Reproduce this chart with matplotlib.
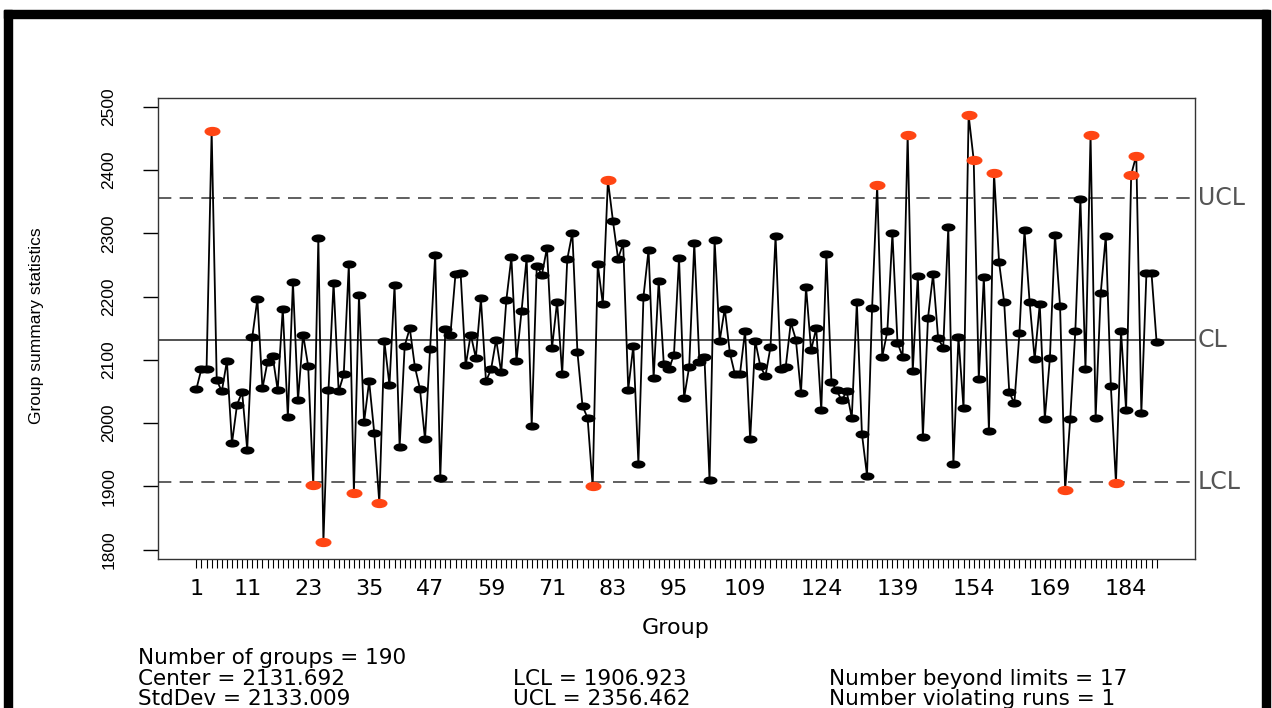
import numpy as np
import matplotlib
matplotlib.use('Agg')
from matplotlib import pyplot as plt
from matplotlib.path import Path
from matplotlib.transforms import Affine2D
from matplotlib.patches import Rectangle

# group summary statistics, one value per group
groups = np.arange(1, 191)
stats = [
    2054, 2086, 2086, 2462, 2068, 2050, 2098, 1968, 2029, 2049,
    1958, 2136, 2196, 2055, 2097, 2106, 2052, 2181, 2009, 2223,
    2036, 2140, 2090, 1902, 2293, 1812, 2052, 2222, 2050, 2077,
    2251, 1890, 2202, 2001, 2066, 1985, 1874, 2129, 2060, 2218,
    1962, 2122, 2150, 2089, 2054, 1974, 2117, 2266, 1913, 2148,
    2140, 2236, 2238, 2091, 2140, 2103, 2197, 2066, 2085, 2132,
    2080, 2194, 2262, 2098, 2177, 2261, 1996, 2249, 2234, 2277,
    2119, 2192, 2078, 2259, 2301, 2112, 2027, 2008, 1900, 2251,
    2188, 2384, 2319, 2260, 2284, 2053, 2122, 1936, 2200, 2274,
    2071, 2225, 2093, 2085, 2108, 2261, 2040, 2089, 2285, 2097,
    2104, 1910, 2290, 2130, 2181, 2111, 2077, 2078, 2146, 1974,
    2130, 2090, 2074, 2120, 2296, 2086, 2089, 2159, 2132, 2047,
    2215, 2115, 2150, 2020, 2267, 2065, 2052, 2036, 2050, 2008,
    2191, 1983, 1917, 2182, 2376, 2105, 2145, 2300, 2127, 2105,
    2456, 2082, 2233, 1978, 2166, 2235, 2134, 2119, 2310, 1935,
    2136, 2023, 2487, 2416, 2070, 2231, 1987, 2396, 2254, 2191,
    2049, 2031, 2142, 2305, 2192, 2101, 2188, 2007, 2103, 2297,
    2185, 1894, 2007, 2145, 2355, 2085, 2456, 2008, 2205, 2296,
    2058, 1905, 2145, 2020, 2393, 2423, 2016, 2237, 2237, 2128,
]
center = 2131.692
lcl = 1906.923
ucl = 2356.462
std_dev = 2133.009
n_beyond = 17
n_runs = 1
label_groups = [1, 11, 23, 35, 47, 59, 71, 83, 95, 109, 124, 139, 154, 169, 184]
y_ticks = [1800, 1900, 2000, 2100, 2200, 2300, 2400, 2500]

stats = np.array(stats, dtype=float)
out = (stats > ucl) | (stats < lcl)

W, H = 1272, 708
fig = plt.figure(figsize=(W / 100, H / 100), dpi=100)
ax = fig.add_axes([158 / W, 1 - 559 / H, (1195 - 158) / W, (559 - 98) / H])

# flat oval markers
oval = Path.unit_circle().transformed(Affine2D().scale(1.85, 1.0))

ax.plot(groups, stats, color='black', lw=1.3, zorder=2)
ax.plot(groups[~out], stats[~out], ls='none', marker=oval, ms=9,
        color='black', zorder=3)
ax.plot(groups[out], stats[out], ls='none', marker=oval, ms=10.5,
        color='#ff4513', zorder=3)

ax.axhline(center, color='#333333', lw=1.2, zorder=1)
ax.axhline(ucl, color='#444444', lw=1.2, ls=(0, (8, 5)), zorder=1)
ax.axhline(lcl, color='#444444', lw=1.2, ls=(0, (8, 5)), zorder=1)

tr = ax.get_yaxis_transform()
for y, s in [(ucl, 'UCL'), (center, 'CL'), (lcl, 'LCL')]:
    ax.text(1.003, y, s, transform=tr, ha='left', va='center',
            fontsize=17, color='#555555', family='DejaVu Sans')

span = groups[-1] - groups[0]
ax.set_xlim(groups[0] - 0.04 * span, groups[-1] + 0.04 * span)
rng = stats.max() - stats.min()
ax.set_ylim(stats.min() - 0.04 * rng, stats.max() + 0.04 * rng)

ax.set_xticks(groups)
ax.set_xticklabels([str(g) if g in label_groups else '' for g in groups],
                   family='DejaVu Sans', fontsize=16)
ax.tick_params(axis='x', length=6.5, width=0.8, pad=8)
ax.set_yticks(y_ticks)
ax.set_yticklabels([str(v) for v in y_ticks], rotation=90, va='center',
                   family='Liberation Sans', fontsize=12.5)
ax.tick_params(axis='y', length=11, width=1.0, pad=19)

for sp in ax.spines.values():
    sp.set_linewidth(1.0)
    sp.set_color('#333333')

fig.text(676 / W, 1 - 628 / H, 'Group', ha='center', va='center',
         fontsize=16, family='DejaVu Sans')
fig.text(37 / W, 1 - 326 / H, 'Group summary statistics', rotation=90,
         ha='center', va='center', fontsize=12.5, family='Liberation Sans')

# summary block under the chart
info = [
    (138, 658, 'Number of groups = %d' % len(stats)),
    (138, 679, 'Center = %.3f' % center),
    (138, 699, 'StdDev = %.3f' % std_dev),
    (513, 679, 'LCL = %.3f' % lcl),
    (513, 699, 'UCL = %.3f' % ucl),
    (829, 679, 'Number beyond limits = %d' % n_beyond),
    (829, 699, 'Number violating runs = %d' % n_runs),
]
for x, y, s in info:
    fig.text(x / W, 1 - y / H, s, ha='left', va='center', fontsize=15.5,
             family='DejaVu Sans')

# black frame around the device
for x0, y0, w, h in [(4, 10, 1264, 8), (4, 10, 8, 698), (1262, 10, 8, 698)]:
    fig.add_artist(Rectangle((x0 / W, 1 - (y0 + h) / H), w / W, h / H,
                             transform=fig.transFigure, color='black'))

fig.savefig('out.png', dpi=100)
